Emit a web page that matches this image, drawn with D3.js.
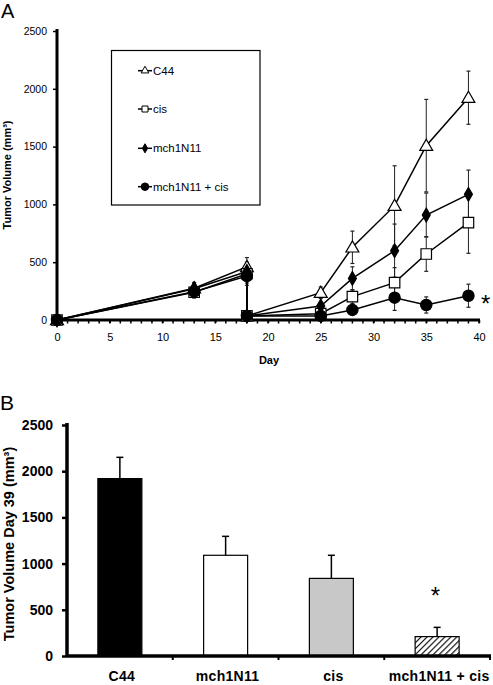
<!DOCTYPE html>
<html><head><meta charset="utf-8">
<script src="https://cdn.jsdelivr.net/npm/d3@7"></script>
<style>body{margin:0;background:#fff}svg{display:block;font-family:"Liberation Sans",Arial,sans-serif}</style>
</head><body><svg id="c" width="493" height="685"></svg>
<script>
// ---- Panel A data ----
const days = [0,13,18,18,25,28,32,35,39];
const seriesNames = ["C44","cis","mch1N11","mch1N11 + cis"];
const c44 = [0,275,460,35,236,629,989,1508,1923];
const c44Err = [0,50,80,0,50,140,345,400,230];
const cis = [0,240,400,35,55,202,323,571,842];
const cisErr = [0,50,80,0,20,60,130,150,265];
const mch = [0,270,420,35,121,360,600,908,1087];
const mchErr = [0,50,80,0,30,100,230,190,210];
const combo = [0,245,380,35,35,87,193,130,210];
const comboErr = [0,50,80,0,15,30,110,70,100];
const yTicksA = [0,500,1000,1500,2000,2500];
const xTicksA = [0,5,10,15,20,25,30,35,40];

// ---- Panel B data ----
const barCats = ["C44","mch1N11","cis","mch1N11 + cis"];
const barVals = [1920,1090,840,210];
const barErrs = [230,205,250,100];
const yTicksB = [0,500,1000,1500,2000,2500];

const svg = d3.select("#c");

// pattern
const defs = svg.append("defs");
const pat = defs.append("pattern").attr("id","hatch").attr("patternUnits","userSpaceOnUse")
  .attr("width",4.2).attr("height",4.2).attr("patternTransform","rotate(45)");
pat.append("rect").attr("width",4.2).attr("height",4.2).attr("fill","#fff");
pat.append("line").attr("x1",0).attr("y1",0).attr("x2",0).attr("y2",4.2).attr("stroke","#000").attr("stroke-width",2.2);

// ================= Panel A =================
const xA = d3.scaleLinear().domain([0,40]).range([57,479]);
const yA = d3.scaleLinear().domain([0,2500]).range([320,31]);

svg.append("text").attr("x",1).attr("y",18).attr("font-size",20).text("A");

// y axis
const gyA = svg.append("g").attr("transform","translate(57,0)")
  .call(d3.axisLeft(yA).tickValues(yTicksA).tickFormat(d3.format("d")).tickSize(4).tickPadding(6));
gyA.select(".domain").attr("stroke-width",3).attr("d",`M0,${yA(2500)-2}V${yA(0)}`);
gyA.selectAll(".tick line").attr("stroke-width",1.5);
gyA.selectAll("text").attr("font-size",10.5).attr("font-family","Liberation Sans, Arial");

// x axis
const gxA = svg.append("g").attr("transform","translate(0,320)")
  .call(d3.axisBottom(xA).tickValues(xTicksA).tickFormat(d3.format("d")).tickSize(3).tickPadding(10));
gxA.select(".domain").attr("stroke-width",3).attr("d",`M${xA(0)},0H${xA(40)+1}`);
gxA.selectAll("text").attr("font-size",11).attr("font-family","Liberation Sans, Arial");
gxA.selectAll(".tick line").attr("stroke-width",1.5);
// minor ticks every day
svg.append("g").selectAll("line").data(d3.range(0,41)).join("line")
  .attr("x1",d=>xA(d)).attr("x2",d=>xA(d)).attr("y1",320).attr("y2",323.5)
  .attr("stroke","#000").attr("stroke-width",1.5);

svg.append("text").attr("x",269).attr("y",364).attr("text-anchor","middle")
  .attr("font-size",11).attr("font-weight","bold").text("Day");
svg.append("text").attr("transform","translate(11,175) rotate(-90)").attr("text-anchor","middle")
  .attr("font-size",11).attr("font-weight","bold").text("Tumor Volume (mm³)");

const seriesA = [
  {name:"C44", vals:c44, err:c44Err, sym:d3.symbolTriangle, size:72, fill:"#fff", lsize:26},
  {name:"cis", vals:cis, err:cisErr, sym:d3.symbolSquare, size:110, fill:"#fff", lsize:36},
  {name:"mch1N11", vals:mch, err:mchErr, sym:d3.symbolDiamond, size:55, fill:"#000", lsize:24},
  {name:"mch1N11 + cis", vals:combo, err:comboErr, sym:d3.symbolCircle, size:100, fill:"#000", lsize:44}
];

const line = d3.line().x(d=>xA(d[0])).y(d=>yA(d[1]));
const gErr = svg.append("g");
seriesA.forEach(s=>{
  days.forEach((d,i)=>{
    if(!s.err[i]) return;
    const x = xA(d), y1 = yA(s.vals[i]+s.err[i]), y2 = yA(Math.max(0,s.vals[i]-s.err[i]));
    gErr.append("line").attr("x1",x).attr("x2",x).attr("y1",y1).attr("y2",y2).attr("stroke","#222").attr("stroke-width",1);
    [y1,y2].forEach(y=>gErr.append("line").attr("x1",x-2).attr("x2",x+2).attr("y1",y).attr("y2",y).attr("stroke","#222").attr("stroke-width",1.2));
  });
});
seriesA.forEach(s=>{
  svg.append("path").datum(days.map((d,i)=>[d,s.vals[i]])).attr("d",line)
    .attr("fill","none").attr("stroke","#000").attr("stroke-width",1.5);
});
seriesA.forEach(s=>{
  svg.append("g").selectAll("path").data(days.map((d,i)=>[d,s.vals[i]])).join("path")
    .attr("transform",d=>`translate(${xA(d[0])},${yA(d[1])+(s.sym===d3.symbolTriangle?1:0)})`)
    .attr("d",d3.symbol().type(s.sym).size(s.size))
    .attr("fill",s.fill).attr("stroke","#000").attr("stroke-width",1.2);
});
svg.append("text").attr("x",481).attr("y",312).attr("font-size",24).text("*");

// legend
svg.append("rect").attr("x",111.5).attr("y",50.5).attr("width",148.5).attr("height",154.5)
  .attr("fill","#fff").attr("stroke","#000").attr("stroke-width",1.2);
const legY = [70.7,109,148.3,186.7];
seriesA.forEach((s,i)=>{
  const g = svg.append("g").attr("transform",`translate(0,${legY[i]})`);
  g.append("line").attr("x1",138).attr("x2",152).attr("stroke","#000").attr("stroke-width",1.5);
  g.append("path").attr("transform","translate(145,0)").attr("d",d3.symbol().type(s.sym).size(s.lsize))
    .attr("fill",s.fill).attr("stroke","#000").attr("stroke-width",1);
  g.append("text").attr("x",153).attr("y",4).attr("font-size",11.5).text(s.name);
});

// ================= Panel B =================
const xB = d3.scaleBand().domain(barCats).range([67,490]).paddingInner(0.584).paddingOuter(0.292);
const yB = d3.scaleLinear().domain([0,2500]).range([656,425]);

svg.append("text").attr("x",0).attr("y",410).attr("font-size",21).text("B");

const gyB = svg.append("g").attr("transform","translate(67,0)")
  .call(d3.axisLeft(yB).tickValues(yTicksB).tickFormat(d3.format("d")).tickSize(5).tickPadding(9));
gyB.select(".domain").attr("stroke-width",3.5).attr("d",`M0,${yB(2500)-2}V${yB(0)}`);
gyB.selectAll(".tick line").attr("stroke-width",2.5);
gyB.selectAll("text").attr("font-size",14).attr("font-weight","bold").attr("font-family","Liberation Sans, Arial");

svg.append("text").attr("transform","translate(14,544) rotate(-90)").attr("text-anchor","middle")
  .attr("font-size",14.5).attr("font-weight","bold").text("Tumor Volume Day 39 (mm³)");

const fills = ["#000","#fff","#c8c8c8","url(#hatch)"];
barCats.forEach((c,i)=>{
  const x = xB(c), w = xB.bandwidth(), cx = x+w/2;
  svg.append("rect").attr("x",x).attr("y",yB(barVals[i])).attr("width",w).attr("height",yB(0)-yB(barVals[i]))
    .attr("fill",fills[i]).attr("stroke","#000").attr("stroke-width",1.2);
  const yt = yB(barVals[i]+barErrs[i]);
  svg.append("line").attr("x1",cx).attr("x2",cx).attr("y1",yt).attr("y2",yB(barVals[i])).attr("stroke","#000").attr("stroke-width",1.5);
  svg.append("line").attr("x1",cx-3.5).attr("x2",cx+3.5).attr("y1",yt).attr("y2",yt).attr("stroke","#000").attr("stroke-width",1.5);
});
// x axis B
svg.append("line").attr("x1",67).attr("x2",491).attr("y1",656).attr("y2",656).attr("stroke","#000").attr("stroke-width",3.5);
const bounds = d3.range(1,5).map(k=>67+xB.step()*k);
svg.append("g").selectAll("line").data(bounds).join("line")
  .attr("x1",d=>d).attr("x2",d=>d).attr("y1",656).attr("y2",660).attr("stroke","#000").attr("stroke-width",2);
svg.append("g").selectAll("text").data(barCats).join("text")
  .attr("x",d=>xB(d)+xB.bandwidth()/2+2).attr("y",681).attr("text-anchor","middle")
  .attr("font-size",14).attr("font-weight","bold").attr("letter-spacing",0.3).text(d=>d);
svg.append("text").attr("x",xB(barCats[3])+xB.bandwidth()/2-6.5).attr("y",604).attr("font-size",24).text("*");
</script></body></html>
